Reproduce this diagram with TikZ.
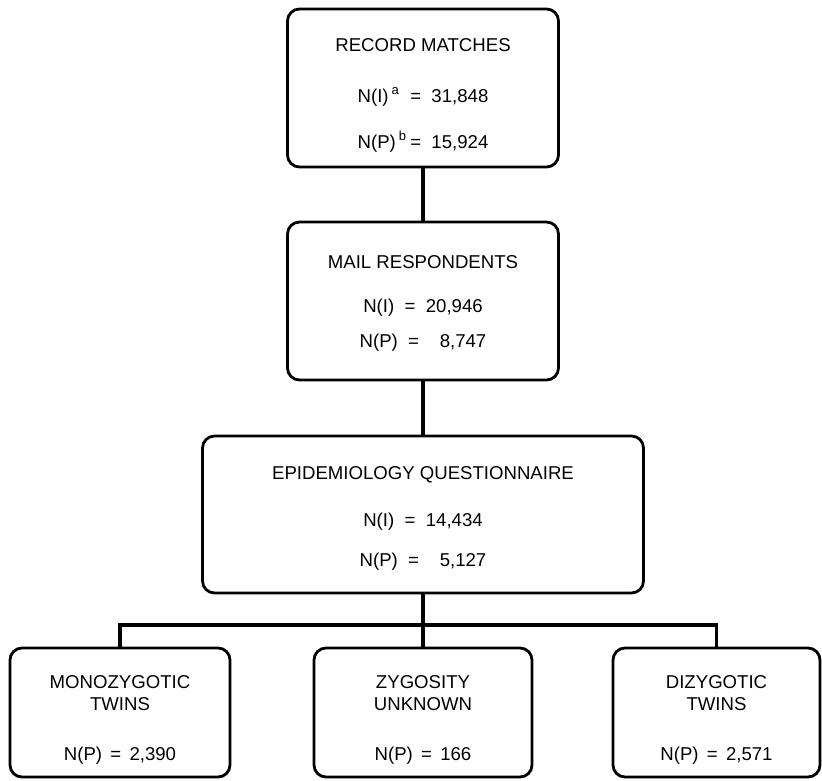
\documentclass[tikz,border=0pt]{standalone}
\usepackage{fontspec}
\setmainfont{Liberation Sans}
\usepackage{tikz}
\usetikzlibrary{positioning, calc}

\tikzset{
    stagebox/.style={draw, line width=1.4pt, rounded corners=6pt, inner sep=0pt},
    lbl/.style={font=\fontsize{9.3}{11}\selectfont, inner sep=0pt},
    link/.style={line width=1.6pt}
}

\begin{document}
\begin{tikzpicture}[x=0.5pt, y=-0.5pt]
    \useasboundingbox (0, 0) rectangle (822, 780);

    % Record matches
    \node[stagebox, minimum width=135.5pt, minimum height=79pt] (rec) at (423, 88) {};
    \node[lbl] (rectitle) at (423, 45) {RECORD MATCHES};
    \node[lbl] (recni) at (423, 97) {N(I)\,\textsuperscript{a} \ = \ 31,848};
    \node[lbl] (recnp) at (423, 142) {N(P)\,\textsuperscript{b}\,= \ 15,924};

    % Mail respondents
    \node[stagebox, minimum width=135.5pt, minimum height=79pt] (mail) at (423, 301) {};
    \node[lbl] (mailtitle) at (423, 262) {MAIL RESPONDENTS};
    \node[lbl] (mailni) at (423, 308) {N(I) \ = \ 20,946};
    \node[lbl] (mailnp) at (423, 343) {N(P) \ = \ \phantom{2}8,747};

    % Epidemiology questionnaire
    \node[stagebox, minimum width=220.5pt, minimum height=78.5pt] (epi) at (423, 514.5) {};
    \node[lbl] (epititle) at (423, 475) {EPIDEMIOLOGY QUESTIONNAIRE};
    \node[lbl] (epini) at (423, 522) {N(I) \ = \ 14,434};
    \node[lbl] (epinp) at (423, 562) {N(P) \ = \ \phantom{1}5,127};

    % Zygosity groups
    \node[stagebox, minimum width=110pt, minimum height=64.5pt] (mono) at (120, 712.5) {};
    \node[lbl, align=center] (monotitle) at (120, 693) {MONOZYGOTIC\\TWINS};
    \node[lbl] (mononp) at (120, 756) {N(P) \,=\, 2,390};

    \node[stagebox, minimum width=109pt, minimum height=64.5pt] (zyg) at (423, 712.5) {};
    \node[lbl, align=center] (zygtitle) at (423, 693) {ZYGOSITY\\UNKNOWN};
    \node[lbl] (zygnp) at (423, 756) {N(P) \,=\, 166};

    \node[stagebox, minimum width=103.5pt, minimum height=64.5pt] (dizy) at (716.5, 712.5) {};
    \node[lbl, align=center] (dizytitle) at (716.5, 693) {DIZYGOTIC\\TWINS};
    \node[lbl] (dizynp) at (716.5, 756) {N(P) \,=\, 2,571};

    % Connectors
    \draw[link] (rec.south) -- (mail.north);
    \draw[link] (mail.south) -- (epi.north);
    \coordinate (bus) at (423, 625);
    \draw[link] (epi.south) -- (bus);
    \draw[link] (bus) -| (mono.north);
    \draw[link] (bus) -| (dizy.north);
    \draw[link] (bus) -- (zyg.north);
\end{tikzpicture}
\end{document}
